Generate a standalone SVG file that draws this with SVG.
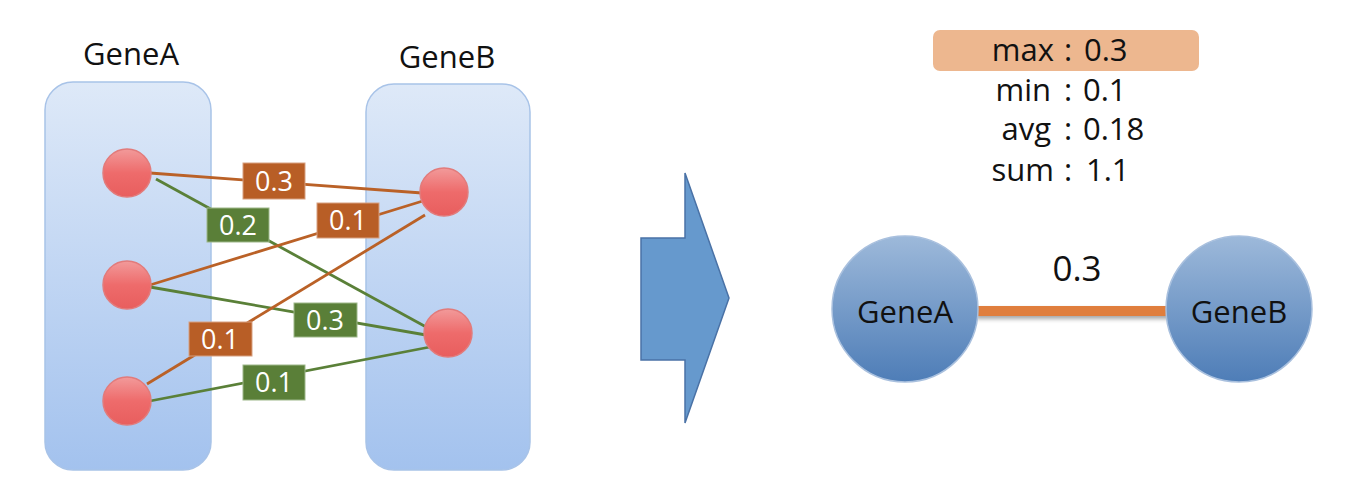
<svg xmlns="http://www.w3.org/2000/svg" width="1366" height="499" viewBox="0 0 1366 499">
<defs>
<linearGradient id="boxg" x1="0" y1="0" x2="0" y2="1"><stop offset="0" stop-color="#DEE9F8"/><stop offset="1" stop-color="#A3C2EE"/></linearGradient>
<linearGradient id="redg" x1="0" y1="0" x2="0" y2="1"><stop offset="0" stop-color="#F29A9A"/><stop offset="0.5" stop-color="#EE6B6B"/><stop offset="1" stop-color="#E85E5E"/></linearGradient>
<linearGradient id="blueg" x1="0" y1="0" x2="0" y2="1"><stop offset="0" stop-color="#9DB9DA"/><stop offset="1" stop-color="#4E7DB7"/></linearGradient>
<filter id="sh" x="-20%" y="-100%" width="140%" height="400%"><feDropShadow dx="1" dy="3" stdDeviation="2" flood-color="#000" flood-opacity="0.35"/></filter>
</defs>
<style>
.t{font-family:"Open Sans","Noto Sans",sans-serif;fill:#111;}
.box{fill:url(#boxg);stroke:#A8C3E8;stroke-width:1.5;}
.rc{fill:url(#redg);stroke:#E27B7B;stroke-width:1.5;}
.bc{fill:url(#blueg);stroke:#A9C0DE;stroke-width:1.5;}
.eo{stroke:#BA6127;stroke-width:2.8;fill:none;}
.eg{stroke:#5A8038;stroke-width:2.8;fill:none;}
.lo{fill:#B85E26;stroke:#D7A080;stroke-width:1;}
.lg{fill:#5A7F38;stroke:#9DB88A;stroke-width:1;}
.lt{font-family:"Open Sans","Noto Sans",sans-serif;fill:#fff;font-size:27px;text-anchor:middle;}
.st{font-family:"Open Sans","Noto Sans",sans-serif;fill:#111;font-size:31px;}
</style>
<rect width="1366" height="499" fill="#fff"/>
<g id="groupA"><rect class="box" x="45" y="82" width="166" height="388" rx="28"/><text class="t" x="131" y="65" font-size="31" text-anchor="middle">GeneA</text></g>
<g id="groupB"><rect class="box" x="366" y="84" width="164" height="386" rx="28"/><text class="t" x="447" y="68" font-size="31" text-anchor="middle">GeneB</text></g>
<g id="connectors">
<line class="eo" x1="150" y1="173" x2="422" y2="193"/>
<line class="eg" x1="156" y1="179" x2="428" y2="328"/>
<line class="eo" x1="150" y1="285" x2="426" y2="200"/>
<line class="eg" x1="150" y1="287" x2="426" y2="335"/>
<line class="eo" x1="147" y1="384" x2="425" y2="215"/>
<line class="eg" x1="150" y1="401" x2="430" y2="347"/>
<rect class="lo" x="243" y="163" width="62" height="36"/><text class="lt" x="274" y="191">0.3</text>
<rect class="lg" x="207" y="208" width="62" height="34"/><text class="lt" x="238" y="235">0.2</text>
<rect class="lo" x="317" y="203" width="62" height="35"/><text class="lt" x="348" y="230">0.1</text>
<rect class="lg" x="294" y="303" width="63" height="34"/><text class="lt" x="325" y="330">0.3</text>
<rect class="lo" x="189" y="322" width="63" height="34"/><text class="lt" x="220" y="349">0.1</text>
<rect class="lg" x="243" y="365" width="62" height="35"/><text class="lt" x="274" y="392">0.1</text>
</g>
<g id="a1"><circle class="rc" cx="127" cy="173" r="24"/></g>
<g id="a2"><circle class="rc" cx="127" cy="285" r="24"/></g>
<g id="a3"><circle class="rc" cx="127" cy="401" r="24"/></g>
<g id="b1"><circle class="rc" cx="444" cy="192" r="24"/></g>
<g id="b2"><circle class="rc" cx="448" cy="333" r="24"/></g>
<g id="arrow"><polygon points="641,238 685,238 685,173 729,298 685,423 685,360 641,360" fill="#6699CD" stroke="#4A72A6" stroke-width="1.5"/></g>
<g id="stats">
<rect x="933" y="30" width="266" height="41" rx="7" fill="#EDB78F"/>
<text class="st" y="61"><tspan x="1054" text-anchor="end">max</tspan><tspan x="1068" text-anchor="middle">:</tspan><tspan x="1084">0.3</tspan></text>
<text class="st" y="101"><tspan x="1051" text-anchor="end">min</tspan><tspan x="1068" text-anchor="middle">:</tspan><tspan x="1083">0.1</tspan></text>
<text class="st" y="140"><tspan x="1051" text-anchor="end">avg</tspan><tspan x="1068" text-anchor="middle">:</tspan><tspan x="1083">0.18</tspan></text>
<text class="st" y="181"><tspan x="1054" text-anchor="end">sum</tspan><tspan x="1068" text-anchor="middle">:</tspan><tspan x="1086">1.1</tspan></text>
</g>
<g id="mergedEdge"><rect x="975" y="306" width="195" height="10" fill="#E07E3C" filter="url(#sh)"/><text class="t" x="1077" y="281" font-size="35" text-anchor="middle">0.3</text></g>
<g id="nodeA"><circle class="bc" cx="905" cy="309" r="73"/><text class="t" x="905" y="323" font-size="31" text-anchor="middle">GeneA</text></g>
<g id="nodeB"><circle class="bc" cx="1239" cy="309" r="73"/><text class="t" x="1239" y="323" font-size="31" text-anchor="middle">GeneB</text></g>
</svg>
